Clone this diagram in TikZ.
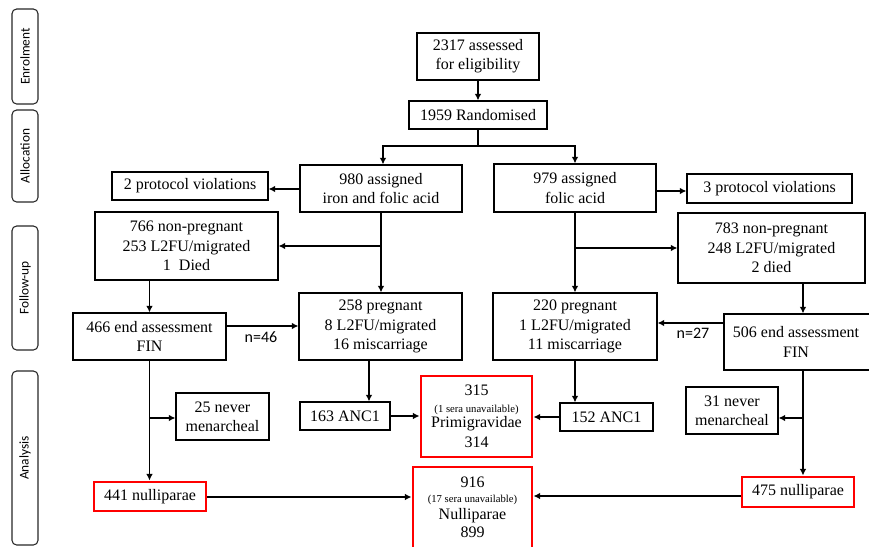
\documentclass[tikz,border=0pt]{standalone}
\usepackage{fontspec}
\setmainfont{Liberation Serif}
\newfontfamily\carl{Carlito}
\usetikzlibrary{arrows.meta}
\begin{document}
\begin{tikzpicture}[x=0.75pt,y=-0.75pt,
  bb/.style n args={4}{minimum width={(#3-#1)*0.75pt}, minimum height={(#4-#2)*0.75pt}, at={({(#1+#3)/2},{(#2+#4)/2})}},
  bx/.style={draw=black, line width=0.8pt, inner sep=0pt, align=center, font=\fontsize{12}{14.5}\selectfont},
  rbx/.style={bx, draw=red, line width=2.2pt},
  txt/.style={inner sep=0pt, align=center, font=\fontsize{12}{14.5}\selectfont},
  sidebox/.style={draw=black!85, line width=0.8pt, rounded corners=3.5pt, inner sep=0pt},
  sidetxt/.style={rotate=90, inner sep=0pt, font=\carl\fontsize{10}{12}\selectfont},
  nlab/.style={inner sep=0pt, font=\carl\fontsize{12}{14}\selectfont},
  ln/.style={line width=1.1pt},
  arr/.style={ln, -{Latex[length=5pt,width=5pt]}}]
\useasboundingbox (0,0) rectangle (869,547);

% side phases
\node[sidebox, bb={12}{9}{38}{104}] (s1) {};
\node[sidetxt] (s1t) at (s1.center) {Enrolment};
\node[sidebox, bb={12}{110}{38}{202}] (s2) {};
\node[sidetxt] (s2t) at (s2.center) {Allocation};
\node[sidebox, bb={12}{226}{38}{350}] (s3) {};
\node[sidetxt] (s3t) at (s3.center) {Follow-up};
\node[sidebox, bb={12}{371}{38}{545}] (s4) {};
\node[sidetxt] (s4t) at (s4.center) {Analysis};

% boxes
\node[bx, bb={417}{33}{539}{80}] (enrol) {2317 assessed\\for eligibility};
\node[bx, bb={409}{101}{547}{129}] (rand) {1959 Randomised};
\node[bx, bb={300}{165}{462}{212}] (ifa) {980 assigned\\iron and folic acid};
\node[bx, bb={494}{164}{656}{212}] (fa) {979 assigned\\folic acid};
\node[bx, bb={112}{172}{268}{200}] (pv1) {2 protocol violations};
\node[bx, bb={687}{174}{852}{203}] (pv2) {3 protocol violations};
\node[bx, bb={95}{212}{278}{280}] (np1) {766 non-pregnant\\253 L2FU/migrated\\1\ \ Died};
\node[bx, bb={678}{213}{865}{283}] (np2) {783 non-pregnant\\248 L2FU/migrated\\2 died};
\node[bx, bb={299}{293}{462}{360}] (preg1) {258 pregnant\\8 L2FU/migrated\\16 miscarriage};
\node[bx, bb={493}{293}{657}{360}] (preg2) {220 pregnant\\1 L2FU/migrated\\11 miscarriage};
\node[bx, bb={73}{313}{226}{360}] (end1) {466 end assessment\\FIN};
\node[bx, bb={724}{314}{880}{370}] (end2) {};
\node[txt] (end2t) at (796,342) {506 end assessment\\FIN};
\node[bx, bb={300}{402}{390}{430}] (anc1) {163 ANC1};
\node[bx, bb={560}{403}{653}{431}] (anc2) {152 ANC1};
\node[rbx, bb={421}{376}{532}{457}] (prim) {315\\[-1.8pt]{\fontsize{8}{9}\selectfont(1 sera unavailable)}\\[-3pt]Primigravidae\\[0.3pt]314};
\node[bx, bb={176}{393}{269}{440}] (nev1) {25 never\\menarcheal};
\node[bx, bb={686}{387}{778}{434}] (nev2) {31 never\\menarcheal};
\node[rbx, bb={94}{482}{206}{511}] (nul1) {441 nulliparae};
\node[rbx, bb={742}{477}{854}{507}] (nul2) {475 nulliparae};
\node[rbx, bb={413}{467}{532}{565}] (nulli) {};
\node[txt] (nullit) at (472.5,507) {916\\[-3pt]{\fontsize{8}{9}\selectfont(17 sera unavailable)}\\[-1.8pt]Nulliparae\\[-1pt]899};

% connectors
\coordinate (rj) at (478,146);
\draw[arr] (enrol.south) -- (rand.north);
\draw[ln] (rand.south) -- (rj);
\draw[arr] (rj) -| (383,0 |- ifa.north);
\draw[arr] (rj) -| (fa.north);
\draw[arr] (ifa.west |- 0,189) -- (pv1.east |- 0,189);
\draw[arr] (fa.east |- 0,191) -- (pv2.west |- 0,191);

\draw[arr] (ifa.south) -- (ifa.south |- preg1.north);
\coordinate (b1) at (381,246);
\draw[arr] (b1) -- (b1 -| np1.east);
\draw[arr] (fa.south) -- (fa.south |- preg2.north);
\coordinate (b2) at (575,248);
\draw[arr] (b2) -- (b2 -| np2.west);

\draw[arr] (end1.north |- np1.south) -- (end1.north);
\draw[arr] (803,0 |- np2.south) -- (803,0 |- end2.north);

\draw[arr] (end1.east |- 0,326) -- (preg1.west |- 0,326);
\node[nlab] (n46) at (261,337) {n=46};
\draw[arr] (end2.west |- 0,323) -- (preg2.east |- 0,323);
\node[nlab] (n27) at (693,333) {n=27};

\draw[arr] (369,0 |- preg1.south) -- (369,0 |- anc1.north);
\draw[arr] (575,0 |- preg2.south) -- (575,0 |- anc2.north);
\draw[arr] (anc1.east) -- (prim.west |- anc1.east);
\draw[arr] (anc2.west) -- (prim.east |- anc2.west);

\draw[arr] (end1.south) -- (end1.south |- nul1.north);
\draw[arr] (end1.south |- 0,418) -- (nev1.west |- 0,418);
\draw[arr] (803,0 |- end2.south) -- (803,0 |- nul2.north);
\draw[arr] (803,418) -- (nev2.east |- 0,418);

\draw[arr] (nul1.east |- 0,497) -- (nulli.west |- 0,497);
\draw[arr] (nul2.west |- 0,496) -- (nulli.east |- 0,496);
\end{tikzpicture}
\end{document}
